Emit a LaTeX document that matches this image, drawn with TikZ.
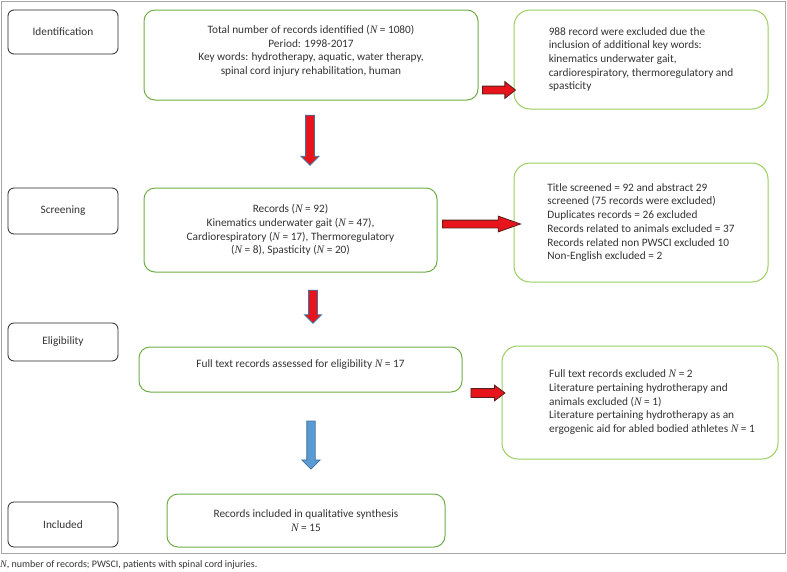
\documentclass[tikz,border=0pt]{standalone}
\usepackage{fontspec}
\setmainfont{Carlito}
\newfontfamily\serifN{Liberation Serif}
\usetikzlibrary{shapes.arrows}
\definecolor{boxgreen}{HTML}{70AD47}
\definecolor{lightgreen}{HTML}{9ACD5E}
\definecolor{arrowred}{HTML}{E8141C}
\definecolor{darkoutline}{HTML}{5A1E1E}
\definecolor{slateblue}{HTML}{41719C}
\definecolor{arrowblue}{HTML}{5B9BD5}
\definecolor{framegray}{HTML}{A5A5A5}
\definecolor{txtgray}{HTML}{333333}
\newcommand{\NN}{{\serifN\itshape N}}
\begin{document}
\begin{tikzpicture}[x=1pt,y=-1pt,font=\fontsize{11.3}{13.7}\selectfont,text=txtgray]
        \tikzstyle{stage}=[draw=black!85,rounded corners=6pt,line width=0.8pt,minimum width=110pt,inner sep=2pt];
        \tikzstyle{mainbox}=[draw=boxgreen,rounded corners=11pt,line width=1pt,align=center,inner sep=3pt];
        \tikzstyle{exbox}=[draw=lightgreen,rounded corners=16pt,line width=1pt,align=left,inner sep=3pt];
        \tikzstyle{blockarrow}=[single arrow,line width=0.8pt,inner xsep=0pt,minimum width=0pt,single arrow head indent=0pt,sloped,allow upside down,midway];
        \tikzstyle{redright}=[blockarrow,draw=darkoutline,fill=arrowred];
        \tikzstyle{reddown}=[blockarrow,draw=slateblue,fill=arrowred];
        \tikzstyle{bluedown}=[blockarrow,draw=slateblue,fill=arrowblue];
        \useasboundingbox (0,0) rectangle (787,571);
        \draw[framegray,line width=0.8pt] (1,1) rectangle (785,553);
        % stages on the left
        \node[stage,minimum height=44pt] (ident) at (63,32) {Identification};
        \node[stage,minimum height=46pt] (screen) at (63,211) {Screening};
        \node[stage,minimum height=38pt] (elig) at (63,342) {Eligibility};
        \node[stage,minimum height=45pt] (inclst) at (63,524.5) {Included};
        % main column
        \node[mainbox,minimum width=334pt,minimum height=90pt,text depth=10pt] (total) at (311,55) {Total number of records identified (\NN{} = 1080)\\Period: 1998-2017\\Key words: hydrotherapy, aquatic, water therapy,\\spinal cord injury rehabilitation, human};
        \node[mainbox,minimum width=293pt,minimum height=84pt] (records) at (290.5,230) {Records (\NN{} = 92)\\Kinematics underwater gait (\NN{} = 47),\\Cardiorespiratory (\NN{} = 17), Thermoregulatory\\(\NN{} = 8), Spasticity (\NN{} = 20)};
        \node[mainbox,minimum width=323pt,minimum height=45pt,text depth=11pt] (fulltext) at (300.5,369.5) {Full text records assessed for eligibility \NN{} = 17};
        \node[mainbox,minimum width=278pt,minimum height=53pt] (final) at (306,520.5) {Records included in qualitative synthesis\\\NN{} = 15};
        % excluded records
        \node[exbox,minimum width=254pt,minimum height=99pt] (excl1) at (641,59.5) {988 record were excluded due the\\inclusion of additional key words:\\kinematics underwater gait,\\cardiorespiratory, thermoregulatory and\\spasticity};
        \node[exbox,minimum width=254pt,minimum height=119pt] (excl2) at (641,222.5) {Title screened = 92 and abstract 29\\screened (75 records were excluded)\\Duplicates records = 26 excluded\\Records related to animals excluded = 37\\Records related non PWSCI excluded 10\\Non-English excluded = 2};
        \node[draw=lightgreen,rounded corners=16pt,line width=1pt,inner sep=3pt,minimum width=276pt,minimum height=113pt] (excl3) at (640,402.5) {\begin{tabular}{@{\hspace{24pt}}l@{}}Full text records excluded \NN{} = 2\\Literature pertaining hydrotherapy and\\animals excluded (\NN{} = 1)\\Literature pertaining hydrotherapy as an\\ergogenic aid for abled bodied athletes \NN{} = 1\end{tabular}};
        % arrow ends
        \coordinate (d1a) at (310,113);
        \coordinate (d1b) at (310,163);
        \coordinate (d2a) at (313,288);
        \coordinate (d2b) at (313,321);
        \coordinate (d3a) at (311,419);
        \coordinate (d3b) at (311,467);
        \coordinate (r1a) at (480,90);
        \coordinate (r1b) at (513,90);
        \coordinate (r2a) at (437,224);
        \coordinate (r2b) at (515,224);
        \coordinate (r3a) at (468,393);
        \coordinate (r3b) at (502,393);
        \path (d1a) -- (d1b) node[reddown,minimum height=50pt,inner ysep=4pt,single arrow head extend=4.5pt] (down1) {};
        \path (d2a) -- (d2b) node[reddown,minimum height=33pt,inner ysep=4pt,single arrow head extend=4pt] (down2) {};
        \path (d3a) -- (d3b) node[bluedown,minimum height=48pt,inner ysep=3.75pt,single arrow head extend=5pt] (down3) {};
        \path (r1a) -- (r1b) node[redright,minimum height=33pt,inner ysep=3.5pt,single arrow head extend=4.5pt,single arrow tip angle=77] (right1) {};
        \path (r2a) -- (r2b) node[redright,minimum height=78pt,inner ysep=3.5pt,single arrow head extend=4pt,single arrow tip angle=39] (right2) {};
        \path (r3a) -- (r3b) node[redright,minimum height=34pt,inner ysep=4pt,single arrow head extend=3.5pt,single arrow tip angle=74] (right3) {};
        % footnote
        \node[anchor=west,inner sep=0pt,font=\fontsize{10}{12}\selectfont] (note) at (0,565) {\NN, number of records; PWSCI, patients with spinal cord injuries.};
    \end{tikzpicture}
\end{document}
